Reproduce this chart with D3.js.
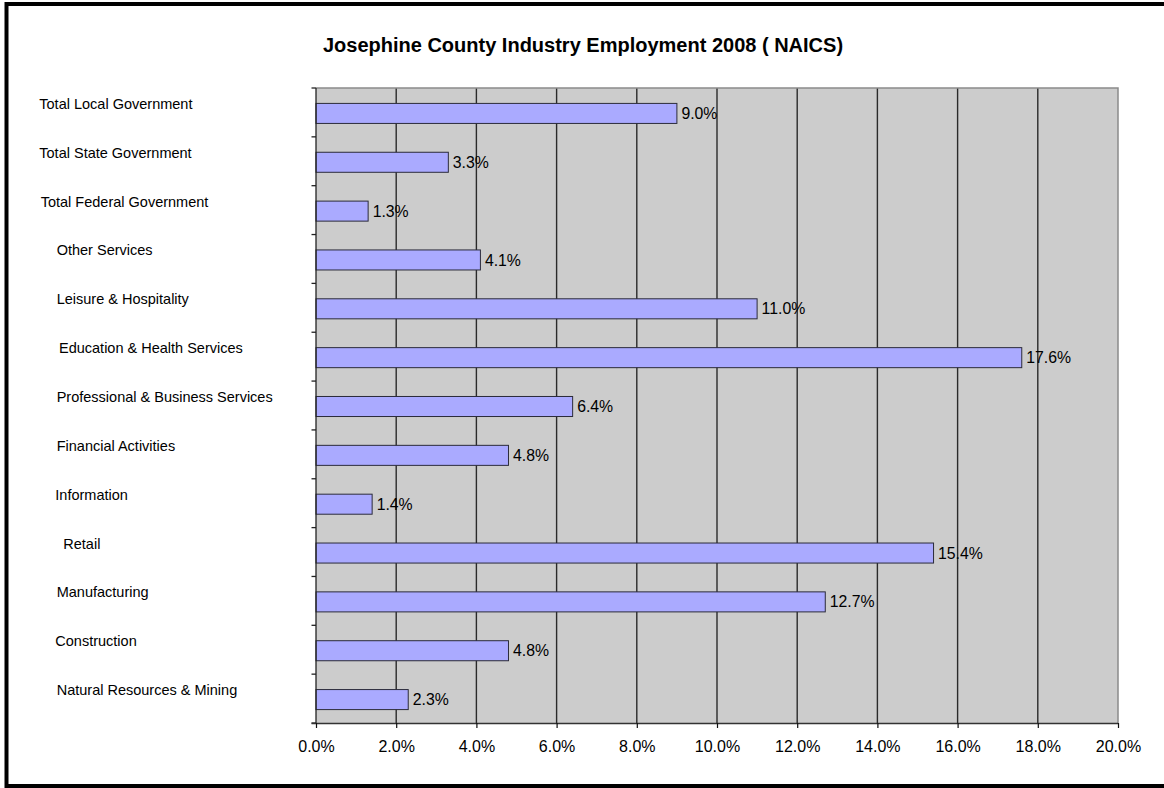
<!DOCTYPE html>
<html>
<head>
<meta charset="utf-8">
<script src="https://cdn.jsdelivr.net/npm/d3@7"></script>
<style>
  body { margin: 0; background: #fff; }
  svg { display: block; font-family: "Liberation Sans", Arial, sans-serif; }
</style>
</head>
<body>
<svg id="chart" width="1164" height="788"></svg>
<script>
// Industry shares of county employment, listed top to bottom
const categories = [
  "Total Local Government",
  "Total State Government",
  "Total Federal Government",
  "Other Services",
  "Leisure & Hospitality",
  "Education & Health Services",
  "Professional & Business Services",
  "Financial Activities",
  "Information",
  "Retail",
  "Manufacturing",
  "Construction",
  "Natural Resources & Mining"
];
const shares = [9.0, 3.3, 1.3, 4.1, 11.0, 17.6, 6.4, 4.8, 1.4, 15.4, 12.7, 4.8, 2.3];
const xTicks = [0, 2, 4, 6, 8, 10, 12, 14, 16, 18, 20];
const chartTitle = "Josephine County Industry Employment 2008 ( NAICS)";

// ---- layout ----
const W = 1164, H = 788;
const plot = { left: 316, right: 1118, top: 88, bottom: 723 };
// left edge of each category label (labels are hand-placed, not aligned)
const labelX = [39.3, 39.3, 40.7, 56.7, 56.7, 59, 56.7, 56.7, 55.3, 63.3, 56.7, 55.3, 56.7];

const svg = d3.select("#chart");

const x = d3.scaleLinear().domain([0, 20]).range([plot.left, plot.right]);
const y = d3.scaleBand()
  .domain(categories)
  .range([plot.top, plot.bottom])
  .paddingInner(0.59)
  .paddingOuter(0.295);

// outer frame
svg.append("rect")
  .attr("x", 6.5).attr("y", 4)
  .attr("width", 1200).attr("height", 782)
  .attr("fill", "#fff")
  .attr("stroke", "#000").attr("stroke-width", 4);

// title
svg.append("text")
  .attr("x", 583).attr("y", 51.5)
  .attr("text-anchor", "middle")
  .attr("font-size", 20).attr("font-weight", "bold")
  .attr("fill", "#000")
  .text(chartTitle);

// plot background
svg.append("rect")
  .attr("x", plot.left).attr("y", plot.top)
  .attr("width", plot.right - plot.left).attr("height", plot.bottom - plot.top)
  .attr("fill", "#cccccc");

// vertical gridlines
svg.append("g").selectAll("line")
  .data(xTicks.filter(d => d > 0 && d < 20))
  .join("line")
  .attr("x1", d => x(d)).attr("x2", d => x(d))
  .attr("y1", plot.top).attr("y2", plot.bottom)
  .attr("stroke", "#2a2a2a").attr("stroke-width", 1.4);

// plot border (top and right)
svg.append("path")
  .attr("d", `M${plot.left},${plot.top}H${plot.right}V${plot.bottom}`)
  .attr("fill", "none")
  .attr("stroke", "#8a8a8a").attr("stroke-width", 1.5);

// bars
svg.append("g").selectAll("rect")
  .data(categories)
  .join("rect")
  .attr("x", x(0))
  .attr("y", d => y(d) + 1)
  .attr("width", (d, i) => x(shares[i]) - x(0))
  .attr("height", y.bandwidth())
  .attr("fill", "#aaaaff")
  .attr("stroke", "#2b2b3a").attr("stroke-width", 1);

// value labels
svg.append("g").selectAll("text")
  .data(categories)
  .join("text")
  .attr("x", (d, i) => x(shares[i]) + 4.5)
  .attr("y", d => y(d) + 1 + y.bandwidth() / 2 + 5.6)
  .attr("font-size", 15.8)
  .attr("fill", "#000")
  .text((d, i) => shares[i].toFixed(1) + "%");

// category axis line and ticks at band boundaries
svg.append("line")
  .attr("x1", plot.left).attr("x2", plot.left)
  .attr("y1", plot.top).attr("y2", plot.bottom)
  .attr("stroke", "#222").attr("stroke-width", 1.3);
svg.append("g").selectAll("line")
  .data(d3.range(categories.length + 1))
  .join("line")
  .attr("x1", plot.left - 4.5).attr("x2", plot.left)
  .attr("y1", i => plot.top + i * y.step())
  .attr("y2", i => plot.top + i * y.step())
  .attr("stroke", "#222").attr("stroke-width", 1.3);

// category labels
svg.append("g").selectAll("text")
  .data(categories)
  .join("text")
  .attr("x", (d, i) => labelX[i])
  .attr("y", d => y(d) + y.bandwidth() / 2 - 3.5)
  .attr("font-size", 14.5)
  .attr("fill", "#000")
  .text(d => d);

// value axis
const xAxis = d3.axisBottom(x)
  .tickValues(xTicks)
  .tickSize(5)
  .tickPadding(0)
  .tickFormat(d => d.toFixed(1) + "%");
const gx = svg.append("g")
  .attr("transform", `translate(0,${plot.bottom})`)
  .call(xAxis);
gx.select(".domain")
  .attr("stroke", "#333").attr("stroke-width", 1.5)
  .attr("d", `M${plot.left - 4.5},0.5H${plot.right}`);
gx.selectAll(".tick line").attr("stroke", "#111").attr("stroke-width", 1.2);
gx.selectAll(".tick text")
  .attr("y", 29).attr("dy", null)
  .attr("font-size", 16)
  .attr("font-family", "Liberation Sans, Arial, sans-serif")
  .attr("fill", "#000");
</script>
</body>
</html>
